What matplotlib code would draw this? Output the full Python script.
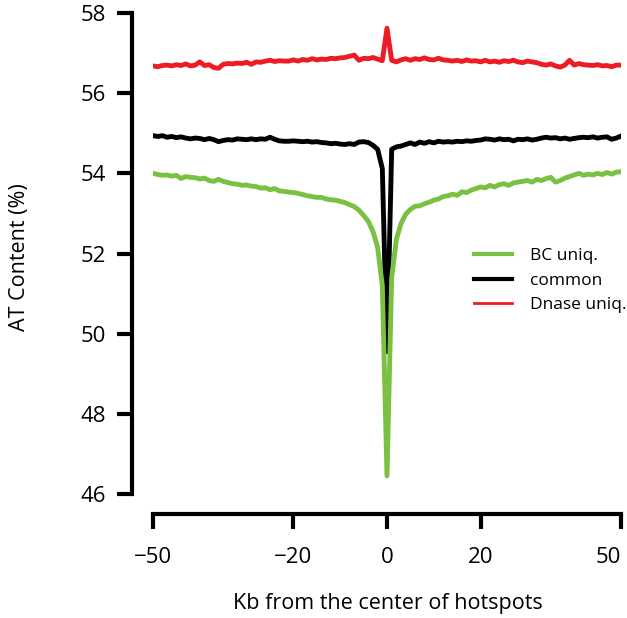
import numpy as np
import matplotlib.pyplot as plt
from matplotlib.lines import Line2D

# distance from hotspot centre (kb), 1 kb bins
kb = np.arange(-50, 51)

bc_uniq = [54.00, 53.97, 53.95, 53.96, 53.93, 53.95, 53.87, 53.92, 53.90, 53.89,
           53.86, 53.88, 53.82, 53.80, 53.85, 53.80, 53.77, 53.74, 53.73, 53.70,
           53.71, 53.68, 53.67, 53.63, 53.64, 53.59, 53.62, 53.56, 53.55, 53.53,
           53.52, 53.50, 53.47, 53.44, 53.42, 53.40, 53.40, 53.36, 53.34, 53.33,
           53.30, 53.27, 53.22, 53.17, 53.08, 52.95, 52.80, 52.55, 52.15, 51.20,
           46.45,
           51.40, 52.35, 52.75, 52.98, 53.10, 53.18, 53.19, 53.24, 53.28, 53.33,
           53.36, 53.42, 53.44, 53.48, 53.45, 53.54, 53.52, 53.58, 53.62, 53.66,
           53.64, 53.70, 53.66, 53.72, 53.74, 53.70, 53.76, 53.78, 53.80, 53.82,
           53.78, 53.85, 53.82, 53.87, 53.90, 53.78, 53.82, 53.88, 53.92, 53.96,
           54.00, 53.95, 53.98, 53.96, 54.00, 53.97, 54.02, 53.98, 54.03, 54.04]

common = [54.94, 54.92, 54.94, 54.90, 54.92, 54.89, 54.91, 54.88, 54.86, 54.88,
          54.87, 54.84, 54.87, 54.84, 54.79, 54.82, 54.84, 54.83, 54.86, 54.85,
          54.84, 54.86, 54.84, 54.86, 54.85, 54.90, 54.85, 54.81, 54.80, 54.80,
          54.81, 54.80, 54.79, 54.80, 54.78, 54.79, 54.77, 54.76, 54.74, 54.75,
          54.73, 54.72, 54.74, 54.72, 54.78, 54.79, 54.77, 54.70, 54.60, 54.12,
          49.55,
          54.60, 54.66, 54.68, 54.72, 54.76, 54.72, 54.78, 54.75, 54.79, 54.76,
          54.80, 54.78, 54.79, 54.78, 54.80, 54.79, 54.81, 54.80, 54.82, 54.83,
          54.86, 54.85, 54.83, 54.86, 54.84, 54.85, 54.81, 54.85, 54.84, 54.86,
          54.83, 54.85, 54.88, 54.90, 54.88, 54.89, 54.86, 54.88, 54.85, 54.87,
          54.89, 54.90, 54.89, 54.91, 54.88, 54.90, 54.91, 54.85, 54.88, 54.93]

dnase_uniq = [56.68, 56.66, 56.69, 56.70, 56.68, 56.71, 56.69, 56.73, 56.68, 56.70,
              56.78, 56.69, 56.71, 56.64, 56.62, 56.72, 56.74, 56.73, 56.75, 56.74,
              56.77, 56.72, 56.78, 56.77, 56.80, 56.82, 56.79, 56.81, 56.80, 56.80,
              56.83, 56.80, 56.84, 56.82, 56.86, 56.83, 56.85, 56.84, 56.87, 56.86,
              56.88, 56.89, 56.92, 56.95, 56.82, 56.87, 56.86, 56.89, 56.85, 56.81,
              57.62,
              56.82, 56.78, 56.83, 56.86, 56.82, 56.86, 56.84, 56.88, 56.84, 56.83,
              56.87, 56.83, 56.82, 56.80, 56.82, 56.79, 56.83, 56.80, 56.81, 56.78,
              56.82, 56.78, 56.80, 56.77, 56.81, 56.79, 56.82, 56.78, 56.76, 56.80,
              56.78, 56.76, 56.72, 56.70, 56.73, 56.68, 56.65, 56.70, 56.82, 56.70,
              56.74, 56.71, 56.70, 56.69, 56.71, 56.68, 56.69, 56.66, 56.70, 56.70]

labels = ["BC uniq.", "common", "Dnase uniq."]
colors = ["#7ac143", "#000000", "#ed1c24"]

xticks = [-50, -20, 0, 20, 50]
yticks = [46, 48, 50, 52, 54, 56, 58]

plt.rcParams['font.family'] = ['Open Sans', 'DejaVu Sans']

fig = plt.figure(figsize=(6.27, 6.18), dpi=100)
ax = fig.add_axes([153/627, 1 - 494/618, 468/627, 481/618])

ax.plot(kb, dnase_uniq, color=colors[2], lw=3.5, solid_joinstyle='round')
ax.plot(kb, common, color=colors[1], lw=3.5, solid_joinstyle='round')
ax.plot(kb, bc_uniq, color=colors[0], lw=3.5, solid_joinstyle='round')

ax.set_xlim(-50, 50)
ax.set_ylim(46, 58)
ax.set_xticks(xticks)
ax.set_yticks(yticks)

for s in ['top', 'right']:
    ax.spines[s].set_visible(False)
ax.spines['left'].set_position(('outward', 15))
ax.spines['bottom'].set_position(('outward', 14.5))
ax.spines['left'].set_bounds(46, 58)
ax.spines['bottom'].set_bounds(-50, 50)
for s in ['left', 'bottom']:
    ax.spines[s].set_linewidth(3)
    ax.spines[s].set_capstyle('projecting')

ax.tick_params(axis='both', length=11, width=3, labelsize=16)
ax.tick_params(axis='y', pad=8)
ax.tick_params(axis='x', pad=13)
ax.get_xticklabels()[-1].set_horizontalalignment('right')
ax.get_xticklabels()[-1].set_x(51.5)

ax.set_xlabel("Kb from the center of hotspots", fontsize=15.5)
ax.set_ylabel("AT Content (%)", fontsize=15.5)
ax.xaxis.set_label_coords(388/627, 1 - 593/618, transform=fig.transFigure)
ax.yaxis.set_label_coords(30/627, 1 - 257/618, transform=fig.transFigure)

handles = [Line2D([], [], color=colors[0], lw=3),
           Line2D([], [], color=colors[1], lw=3),
           Line2D([], [], color=colors[2], lw=2)]
ax.legend(handles, labels, loc='upper left', frameon=False, fontsize=12.5,
          bbox_to_anchor=(474/627, 1 - 248/618), bbox_transform=fig.transFigure,
          borderpad=0, borderaxespad=0, handlelength=2.2, handletextpad=1.0,
          labelspacing=0.48)

fig.savefig("out.png", dpi=100)
